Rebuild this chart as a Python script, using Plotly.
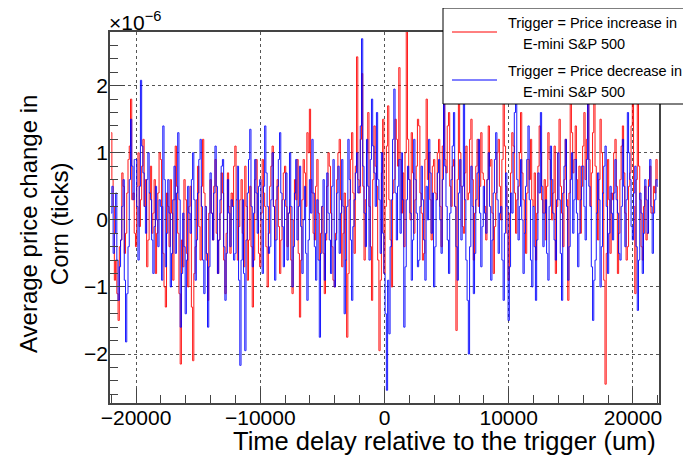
import plotly.graph_objects as go

# bin centres of the delay histogram (um)
bin_centers = list(range(-22000, 22001, 100))

# average price change in corn, in units of 1e-6 ticks
price_up = [
    1.3, 0.6, 0.2, -0.9, -0.6, -1.1, -1.5, -0.4, -0.3, 0.7, 0.5, -0.5, -0.2, 0.4, 0.9, 1.1, 1.8, 0.3, 0.4, -0.2,
    -0.4, 0.5, 1.0, -0.1, 0.3, 0.8, 1.2, 0.2, 0.6, -0.7, -0.3, 0.4, 0.8, -0.2, 0.1, 0.6, -0.8, -0.2, 0.4, 1.0,
    0.9, 0.2, -0.5, -1.0, -1.3, 0.4, 0.2, -0.4, 0.6, 0.1, -0.9, 0.3, 1.1, 0.5, -0.2, -1.1, -2.15, -0.3, -0.7, 0.6,
    0.3, -0.5, -1.0, 0.2, 0.5, -1.3, -2.1, -0.8, -0.4, 0.3, 0.8, -0.1, -0.6, 0.5, 1.2, 0.4, 0.2, -0.6, -1.2, 0.1,
    0.6, 0.1, -0.3, 0.5, 0.9, -0.2, -0.8, -0.3, 0.1, 0.7, 0.4, -0.6, -1.1, -0.2, 0.7, 0.2, -0.5, 0.4, 0.2, 0.8,
    1.1, 0.3, -0.6, -0.1, 0.3, 0.6, -0.2, -0.7, 0.8, 0.2, -0.9, -0.3, 0.5, -0.4, -1.3, -0.6, 0.6, 0.9, 0.0, -0.5,
    -0.7, 0.1, 0.9, 0.4, 0.2, -0.4, -1.0, -0.2, 0.5, 0.8, 1.1, 0.2, -0.3, 0.3, 0.6, -0.1, -0.8, -0.3, 0.3, 0.7,
    0.8, 0.2, -0.4, 0.1, 0.2, -0.6, -1.1, 0.0, 0.6, 0.3, 0.9, -0.5, -1.45, -0.6, 0.3, 0.9, 0.7, 0.2, 1.3, 1.0,
    1.65, 0.6, 0.4, -0.2, -0.3, 0.5, 0.9, 0.1, -0.6, -0.2, 0.2, -0.5, -1.1, -0.3, 0.5, 1.0, 0.8, 0.1, -0.4, -0.9,
    -1.0, -0.2, 0.6, 1.0, 1.2, 0.3, -0.7, -0.2, 0.4, -0.6, -1.75, -0.8, 0.3, 0.9, 1.3, 0.4, -0.5, 0.8, 2.43, 0.6,
    0.4, 1.2, 2.18, 0.5, -0.6, 0.3, 1.0, 1.6, 0.2, -0.4, -1.2, 0.6, 1.4, 0.8, 0.5, -0.6, -1.95, -0.9, 0.7, 1.5,
    -0.8, 0.2, 1.1, 1.7, 0.3, -0.3, -1.0, 0.4, 0.6, 1.5, 1.2, 0.8, 2.27, 0.9, 0.1, 0.7, -0.4, 1.0, 2.85, 1.2,
    0.6, 0.0, 1.3, 0.7, -0.2, 0.3, 0.8, 1.5, 1.4, 0.4, 0.1, -0.6, -0.5, 0.9, 1.8, 0.6, 1.0, 0.3, -0.3, 0.8,
    0.9, 0.4, 0.3, 1.0, 1.2, 0.2, -0.4, 1.1, 2.2, 0.9, 0.7, 1.4, 1.6, 0.5, 0.2, 0.8, 0.9, 0.2, -1.65, 0.6,
    2.3, 1.0, 0.5, -0.1, -0.2, 0.7, 1.1, 0.3, 0.4, 1.2, 1.5, 0.6, -0.6, 0.1, 0.8, 1.2, 0.2, 0.5, 1.3, 0.7,
    0.6, 0.2, -0.3, 0.6, 1.4, 0.8, 0.9, 0.1, -0.8, -0.1, 0.4, 1.0, 1.2, 0.5, 0.0, 0.9, 1.9, 1.1, 0.5, -0.2,
    -0.9, 0.1, 0.7, 1.3, 1.1, 0.4, -0.2, 0.3, 0.5, 1.0, 1.6, 0.7, 0.3, -0.2, -0.5, 0.4, 0.9, 0.6, 1.2, 0.3,
    0.2, 0.7, -0.6, 0.1, 0.8, 1.4, 1.0, 0.3, 0.1, 0.6, -0.3, 0.5, 1.3, 0.9, 0.6, 0.0, 0.4, 1.1, -0.8, 0.2,
    1.0, 1.5, 0.5, 0.1, -0.4, 0.6, 1.2, 0.3, -1.2, 0.4, 2.85, 1.3, 0.7, 0.9, 1.4, 0.6, 0.3, 0.8, -0.2, 0.5,
    1.1, 1.6, 0.6, 1.2, 2.85, 0.9, 0.2, 0.7, 1.3, 1.8, 0.8, 0.1, -0.3, 0.6, 1.5, 1.0, 0.4, -0.9, -2.45, -0.5,
    0.9, 0.3, -0.5, 0.4, 0.3, 1.0, 1.2, 0.5, -0.8, -0.2, 0.6, 1.1, 1.4, 0.7, 0.1, -0.6, -0.4, 0.5, 0.7, 1.4,
    2.85, 0.2, -1.1, 0.6, 2.85, 0.8, 0.3, -0.4, -0.6, 0.2, 0.5, -0.3, -0.2, 0.6, 0.8, 0.1, 0.1, 0.5, 0.4, 0.9,
    0.6,
]
price_down = [
    0.1, 0.5, -0.5, -0.2, 0.4, -0.6, -1.2, -0.7, -0.3, 0.2, 0.6, -0.9, -1.82, -1.1, -0.4, 0.6, 1.5, 0.8, 0.3, 0.9,
    0.9, 0.2, -0.6, 0.5, 2.08, 1.1, 0.7, 0.2, -0.2, 0.6, 1.0, 0.4, 0.3, -0.3, -0.8, -0.1, 0.5, 0.0, -0.4, 0.3,
    0.2, -0.9, 1.4, 0.6, -0.7, -0.2, 0.6, 0.1, -1.0, -0.5, 0.3, 0.8, -0.5, 0.4, 1.3, 0.3, -1.6, -0.8, 0.1, -0.4,
    -1.4, -0.6, 0.5, 0.1, -0.2, 0.6, 1.0, 0.3, -0.9, -0.3, 0.4, 0.9, 1.2, 0.2, -0.6, -1.1, 0.2, -0.5, -1.6, -0.7,
    0.7, 0.1, -0.3, 0.4, 1.1, 0.5, -0.8, -0.3, 0.3, 0.8, 0.9, -0.4, -1.2, -0.5, 0.6, 0.1, -0.4, 0.3, 0.2, -0.6,
    -0.5, 0.3, 0.8, -0.9, -2.17, -0.6, 0.3, -0.8, -1.95, -0.3, 0.4, 0.9, 1.35, 0.2, -0.7, 0.1, 0.9, 0.4, -0.2, 0.5,
    0.6, 0.0, -0.8, 0.5, 1.4, 0.7, 0.2, -0.5, -0.4, 0.3, 1.0, 0.2, -0.9, -0.3, 0.5, 0.9, 1.3, 0.4, -0.1, -0.7,
    0.3, 0.7, -0.6, 0.1, 1.0, 0.2, -1.0, -0.4, 0.4, 0.9, -0.3, 0.2, 0.8, -0.1, -0.8, 0.0, 0.5, -0.5, -1.2, -0.3,
    0.6, 0.1, 1.2, 0.4, -0.4, -0.9, 0.3, -0.6, -1.75, -0.5, 0.2, 0.6, -0.9, -0.2, 0.7, 0.1, -0.3, -0.8, 0.5, 0.9,
    -1.0, -0.3, 0.4, 0.8, -0.5, 0.1, 0.9, 0.2, -1.4, -0.6, 0.2, 1.2, 0.6, -0.3, -1.2, -0.1, 0.3, 0.7, 1.0, 0.4,
    0.5, 1.4, 2.7, 0.8, 0.1, -0.4, 1.2, 0.5, -0.6, 0.9, 1.8, 1.1, 0.7, 0.2, 1.6, 0.6, 0.3, -0.5, 1.0, -0.2,
    -0.8, -1.4, -2.54, -0.9, -1.7, -0.4, 0.3, 1.2, 1.95, 0.4, -0.3, 0.5, 0.9, -0.2, 1.0, 0.3, -1.6, -0.7, 0.3, 0.8,
    0.6, 0.1, -0.9, -0.3, 1.2, 0.6, 0.1, -0.7, -0.6, 0.2, 0.8, 0.3, -0.3, -0.9, 0.5, 0.0, 1.2, 0.7, -0.2, 0.4,
    -1.0, -0.4, 0.3, 0.7, 0.9, 0.0, -0.5, 0.6, 1.9, 0.8, 0.2, -0.3, -0.8, 0.1, 0.6, 1.1, 1.6, 0.2, -0.4, -0.9,
    0.4, 0.9, -0.3, 0.5, 2.4, 0.3, -0.6, -1.2, -2.0, -0.4, 0.8, 0.2, -1.1, -0.5, 0.3, 0.7, 1.2, 0.1, -0.7, -0.1,
    0.5, 0.1, -0.2, 0.6, 1.0, 0.2, -0.9, -0.3, 0.4, 0.9, 1.3, 0.3, -0.5, 0.1, 0.2, -0.6, -1.2, -0.2, 0.7, 0.2,
    -1.5, -0.7, 0.4, 0.1, 1.0, 1.6, 2.8, 0.6, -0.3, 0.2, 0.9, 0.0, -0.8, -0.2, 0.5, 0.9, 1.4, 0.3, -0.6, -1.0,
    0.2, -0.4, -1.2, -0.3, 0.7, 0.4, 1.6, 0.5, -0.4, 0.1, 0.3, -0.5, -0.9, 0.2, 1.1, 0.6, 0.1, -0.3, -0.6, 0.3,
    1.0, 0.3, -0.5, -1.2, 0.4, 0.8, 1.2, 0.2, -0.9, -0.4, 0.6, 1.0, -0.2, 0.3, 0.9, 0.1, -0.7, -0.2, 0.3, 0.8,
    0.8, 0.2, -0.3, 0.9, 2.8, 0.5, 0.2, -0.7, -1.5, -0.9, -0.6, 0.1, 0.7, 0.3, -1.0, -0.4, 0.4, 0.8, 1.1, 0.2,
    -0.8, -0.2, 0.5, 0.1, -0.3, 0.4, 0.9, 0.3, 0.1, -0.5, -0.6, 0.2, 1.2, 0.5, -0.4, 0.3, 1.6, 1.0, 0.6, -0.1,
    -0.3, 0.4, 0.8, -0.4, -1.35, -0.6, 0.4, 0.1, -0.8, -0.2, 0.6, 0.3, -0.2, 0.5, 0.9, 0.2, -0.5, 0.1, 0.3, 0.6,
    0.5,
]
assert len(price_up) == len(bin_centers), len(price_up)
assert len(price_down) == len(bin_centers), len(price_down)

legend_labels = ["Trigger = Price increase in", "Trigger = Price decrease in"]
legend_sub = "E-mini S&P 500"

# the page body has an 8px margin, so the figure is placed 8px in and down
OFF = 8
W, H = 691 - OFF, 462 - OFF
ML, MR, MT, MB = 110 - OFF, 32, 32 - OFF, 59
PW, PH = W - ML - MR, H - MT - MB
FONT = "Liberation Sans, Arial, Helvetica, sans-serif"


def px(x):
    # page pixel -> paper coordinate
    return (x - OFF - ML) / PW


def py(y):
    return (H - MB - (y - OFF)) / PH


fig = go.Figure()

fig.add_trace(go.Scatter(x=bin_centers, y=price_up, mode="lines",
                         line=dict(color="#ff0000", width=1, shape="hvh"),
                         opacity=0.9, showlegend=False))
fig.add_trace(go.Scatter(x=bin_centers, y=price_down, mode="lines",
                         line=dict(color="#0000ff", width=1, shape="hvh"),
                         opacity=0.9, showlegend=False))

axis_common = dict(
    showline=True, mirror=True, linecolor="#444", linewidth=1.5,
    ticks="inside", ticklen=15, tickcolor="#444", tickwidth=1,
    showgrid=True, gridcolor="#555", griddash="dot", gridwidth=1,
    zeroline=False, automargin=False,
    tickfont=dict(family=FONT, size=21, color="black"),
)

fig.update_xaxes(range=[-22100, 22100], dtick=10000, tick0=0, tickformat="d",
                 ticklabelstandoff=-5,
                 minor=dict(dtick=2000, ticks="inside", ticklen=8,
                            tickcolor="#444", showgrid=False),
                 **axis_common)
fig.update_yaxes(range=[-2.73, 2.8], dtick=1, tick0=0, ticklabelstandoff=-4,
                 minor=dict(dtick=0.2, ticks="inside", ticklen=8,
                            tickcolor="#444", showgrid=False),
                 **axis_common)

annotations = [
    dict(text="×10<sup>−6</sup>", x=px(107), y=py(21.5), xanchor="left",
         yanchor="middle", font=dict(size=21)),
    dict(text="Time delay relative to the trigger (um)", x=px(658), y=py(441),
         xanchor="right", yanchor="middle", font=dict(size=25.5)),
    dict(text="Average price change in<br>Corn (ticks)", x=px(44), y=py(224),
         xanchor="center", yanchor="middle", textangle=-90, font=dict(size=24)),
]

# legend box drawn by hand, ROOT style
shapes = [
    dict(type="rect", x0=px(443), x1=px(690), y0=py(104), y1=py(8),
         line=dict(color="black", width=1), fillcolor="white", layer="above"),
]
legend_colors = ["#ff0000", "#0000ff"]
for i, (label, color) in enumerate(zip(legend_labels, legend_colors)):
    ly = 32 + 48 * i
    shapes.append(dict(type="line", x0=px(452), x1=px(497), y0=py(ly), y1=py(ly),
                       line=dict(color=color, width=1), layer="above"))
    annotations.append(dict(text=label, x=px(506), y=py(ly - 9), xanchor="left",
                            yanchor="middle", font=dict(size=14.5)))
    annotations.append(dict(text=legend_sub, x=px(521), y=py(ly + 12), xanchor="left",
                            yanchor="middle", font=dict(size=14.5)))

for s in shapes:
    s.update(xref="paper", yref="paper")
for a in annotations:
    a.update(xref="paper", yref="paper", showarrow=False)
    a["font"].update(family=FONT, color="black")

fig.update_layout(
    width=W, height=H,
    margin=dict(l=ML, r=MR, t=MT, b=MB),
    paper_bgcolor="white", plot_bgcolor="white",
    annotations=annotations, shapes=shapes,
    showlegend=False,
)

fig.write_html("out.html")
